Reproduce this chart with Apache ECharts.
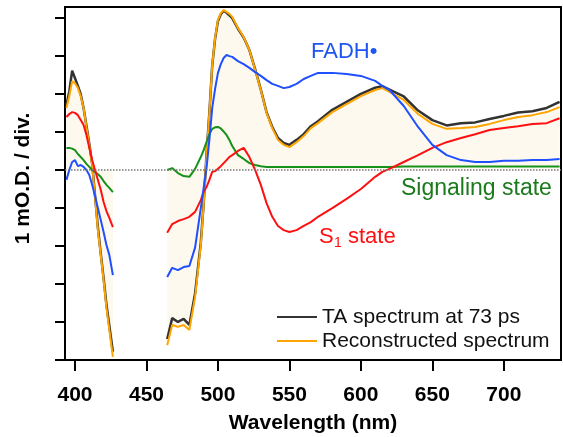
<!DOCTYPE html>
<html>
<head>
<meta charset="utf-8">
<script src="https://cdn.jsdelivr.net/npm/echarts@6/dist/echarts.min.js"></script>
<style>
  html, body { margin: 0; padding: 0; background: #fff; }
  #chart { width: 563px; height: 437px; }
</style>
</head>
<body>
<div id="chart"></div>
<script>
// wavelength grid (nm); null row = gap around the pump wavelength
var wavelength = [394, 396, 398, 400, 402, 404, 406, 408, 410, 412, 414, 416, 418, 420, 422, 424, 426.5,
  445,
  464.5, 468, 472, 476, 480, 484, 488, 490, 492, 494, 496, 498, 500, 502, 504, 506, 508, 510,
  514, 518, 522, 526, 530, 534, 538, 542, 546, 550, 555, 560, 565, 570,
  580, 590, 600, 610, 615, 620, 630, 640, 650, 660, 670, 680, 690, 700, 710, 720, 730, 739];

// values in mO.D. (1 per division)
var taSpectrum = [1.70, 2.05, 2.60, 2.40, 2.20, 1.98, 1.62, 1.15, 0.68, 0.15, -0.68, -1.52, -2.20, -2.85, -3.55, -4.10, -4.78,
  null,
  -4.45, -3.90, -4.00, -3.92, -4.08, -3.25, -1.92, -0.90, 0.40, 1.50, 2.74, 3.44, 3.90, 4.08, 4.17, 4.12, 4.05, 3.98,
  3.70, 3.47, 3.14, 2.64, 2.10, 1.51, 1.12, 0.83, 0.70, 0.65, 0.78, 0.93, 1.14, 1.27,
  1.57, 1.78, 1.99, 2.15, 2.19, 2.10, 1.92, 1.55, 1.30, 1.16, 1.22, 1.24, 1.33, 1.41, 1.50, 1.53, 1.62, 1.78];

var reconstructed = [1.62, 1.93, 2.32, 2.27, 2.14, 1.93, 1.62, 1.12, 0.65, 0.12, -0.72, -1.59, -2.24, -2.90, -3.63, -4.21, -4.92,
  null,
  -4.61, -4.08, -4.13, -4.08, -4.21, -3.35, -1.98, -0.93, 0.38, 1.49, 2.75, 3.46, 3.93, 4.11, 4.19, 4.14, 4.09, 4.01,
  3.72, 3.48, 3.14, 2.62, 2.09, 1.49, 1.09, 0.78, 0.65, 0.59, 0.72, 0.88, 1.09, 1.22,
  1.51, 1.72, 1.93, 2.09, 2.14, 2.04, 1.83, 1.46, 1.20, 1.07, 1.09, 1.12, 1.20, 1.30, 1.38, 1.43, 1.51, 1.64];

var fadh = [-0.27, -0.01, 0.20, 0.25, 0.09, 0.12, 0.07, -0.01, -0.14, -0.40, -0.69, -1.01, -1.32, -1.64, -1.98, -2.24, -2.77,
  null,
  -2.82, -2.58, -2.64, -2.56, -2.53, -2.05, -1.01, -0.48, 0.04, 0.78, 1.62, 2.12, 2.54, 2.77, 2.93, 3.01, 2.98, 2.96,
  2.85, 2.77, 2.67, 2.56, 2.46, 2.35, 2.25, 2.20, 2.14, 2.17, 2.25, 2.38, 2.46, 2.54,
  2.54, 2.51, 2.46, 2.33, 2.20, 2.09, 1.67, 1.12, 0.65, 0.38, 0.25, 0.20, 0.20, 0.23, 0.23, 0.25, 0.25, 0.28];

var signaling = [0.57, 0.57, 0.55, 0.51, 0.41, 0.33, 0.25, 0.15, 0.07, -0.01, -0.06, -0.12, -0.19, -0.30, -0.40, -0.48, -0.59,
  null,
  -0.01, 0.04, -0.09, -0.17, -0.19, 0.02, 0.33, 0.51, 0.72, 0.93, 1.07, 1.11, 1.12, 1.08, 1.00, 0.91, 0.78, 0.62,
  0.38, 0.28, 0.17, 0.12, 0.09, 0.07, 0.07, 0.07, 0.07, 0.07, 0.07, 0.07, 0.07, 0.07,
  0.07, 0.07, 0.07, 0.07, 0.07, 0.07, 0.08, 0.08, 0.08, 0.08, 0.08, 0.08, 0.08, 0.08, 0.08, 0.08, 0.08, 0.08];

var s1State = [1.38, 1.46, 1.51, 1.49, 1.43, 1.30, 1.17, 0.91, 0.57, 0.25, -0.01, -0.27, -0.53, -0.85, -1.09, -1.27, -1.51,
  null,
  -1.66, -1.43, -1.35, -1.30, -1.24, -1.11, -0.80, -0.59, -0.46, -0.27, -0.06, -0.04, 0.02, 0.09, 0.17, 0.25, 0.33, 0.38,
  0.49, 0.57, 0.33, -0.01, -0.40, -0.88, -1.24, -1.48, -1.59, -1.64, -1.59, -1.48, -1.38, -1.24,
  -1.01, -0.77, -0.51, -0.19, -0.06, 0.02, 0.20, 0.38, 0.57, 0.72, 0.83, 0.93, 1.04, 1.09, 1.14, 1.20, 1.22, 1.35];

var xTicks = [400, 450, 500, 550, 600, 650, 700];
var yTicks = [-5, -4, -3, -2, -1, 0, 1, 2, 3, 4];

function pairs(vals) {
  return wavelength.map(function (w, i) { return [w, vals[i] === null ? '-' : vals[i]]; });
}

var font = 'Liberation Sans, Arial, sans-serif';
var chart = echarts.init(document.getElementById('chart'));

var lineSeries = function (name, vals, color, width) {
  return {
    name: name, type: 'line', data: pairs(vals), showSymbol: false, connectNulls: false,
    lineStyle: { color: color, width: width }, itemStyle: { color: color }, silent: true
  };
};

var option = {
  animation: false,
  grid: { left: 65, right: 2, top: 7, bottom: 77, show: true, borderColor: '#000', borderWidth: 2, outerBoundsMode: 'none' },
  xAxis: {
    type: 'value', min: 393, max: 740,
    name: 'Wavelength (nm)', nameLocation: 'middle', nameGap: 53,
    nameTextStyle: { fontFamily: font, fontSize: 21, fontWeight: 'bold', color: '#000' },
    axisLine: { onZero: false, lineStyle: { color: '#000', width: 2 } },
    axisTick: { show: true, length: 11, lineStyle: { color: '#000', width: 2 }, customValues: xTicks },
    axisLabel: { customValues: xTicks, fontFamily: font, fontSize: 21, fontWeight: 'bold', color: '#000', margin: 25 },
    splitLine: { show: false }
  },
  yAxis: {
    type: 'value', min: -5, max: 4.27,
    name: '1 mO.D. / div.', nameLocation: 'middle', nameGap: 31,
    nameTextStyle: { fontFamily: font, fontSize: 21, fontWeight: 'bold', color: '#000', padding: [0, 0, 0, 10] },
    axisLine: { show: true, onZero: false, lineStyle: { color: '#000', width: 2 } },
    axisTick: { show: true, length: 10, lineStyle: { color: '#000', width: 2 }, customValues: yTicks },
    axisLabel: { show: false },
    splitLine: { show: false }
  },
  legend: {
    data: ['TA spectrum at 73 ps', 'Reconstructed spectrum'],
    orient: 'vertical', left: 272, top: 300, icon: 'rect', itemWidth: 40, itemHeight: 2, itemGap: 0,
    textStyle: { fontFamily: font, fontSize: 21, color: '#111', lineHeight: 24 },
    selectedMode: false
  },
  series: [
    {
      name: 'fill', type: 'line', data: pairs(reconstructed), showSymbol: false, silent: true,
      lineStyle: { opacity: 0 }, areaStyle: { color: '#fdf9ef', opacity: 1 },
      markLine: {
        silent: true, symbol: 'none', label: { show: false },
        lineStyle: { color: '#777', type: 'dotted', width: 1.5 },
        data: [{ yAxis: 0 }]
      }
    },
    lineSeries('TA spectrum at 73 ps', taSpectrum, '#333333', 2.5),
    lineSeries('Reconstructed spectrum', reconstructed, '#ffa500', 2),
    lineSeries('Signaling state', signaling, '#16911a', 2),
    lineSeries('S1 state', s1State, '#ff1010', 2),
    lineSeries('FADH', fadh, '#1f4fff', 2)
  ],
  graphic: [
    { type: 'text', left: 311, top: 41, style: { text: 'FADH•', font: '22px ' + font, fill: '#1f55f0' } },
    { type: 'text', left: 401, top: 177, style: { text: 'Signaling state', font: '23px ' + font, fill: '#1b7a1b' } },
    { type: 'text', left: 319, top: 226, style: { text: 'S', font: '22px ' + font, fill: '#ff1010' } },
    { type: 'text', left: 334, top: 236, style: { text: '1', font: '14px ' + font, fill: '#ff1010' } },
    { type: 'text', left: 348, top: 226, style: { text: 'state', font: '22px ' + font, fill: '#ff1010' } }
  ]
};

chart.setOption(option);
</script>
</body>
</html>
